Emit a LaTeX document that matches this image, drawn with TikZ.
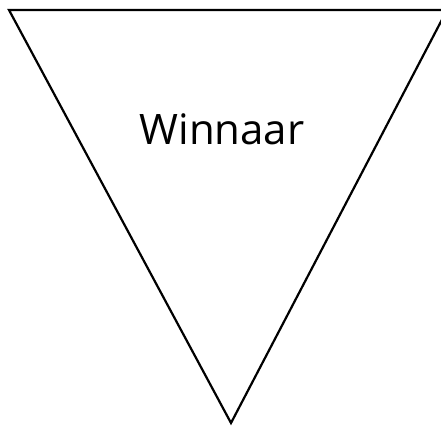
\documentclass[tikz,border=0pt]{standalone}
\usepackage{fontspec}
\setmainfont{Open Sans}
\usetikzlibrary{positioning}

\begin{document}
\begin{tikzpicture}[
    x=1pt, y=-1pt,
    pennant/.style={draw=black, line width=2.2pt, line join=miter},
    label/.style={font=\fontsize{42}{46}\selectfont, inner sep=0pt, anchor=base}
]
    \useasboundingbox (0,0) rectangle (441,425);
    \clip (0,0) rectangle (441,425);

    % Pennant
    \coordinate (topleft) at (9,10);
    \coordinate (topright) at (447,10);
    \coordinate (tip) at (231,423);
    \draw[pennant] (topleft) -- (topright) -- (tip) -- cycle;

    % Text
    \node[label] (winner) at (222,144) {Winnaar};
\end{tikzpicture}
\end{document}
